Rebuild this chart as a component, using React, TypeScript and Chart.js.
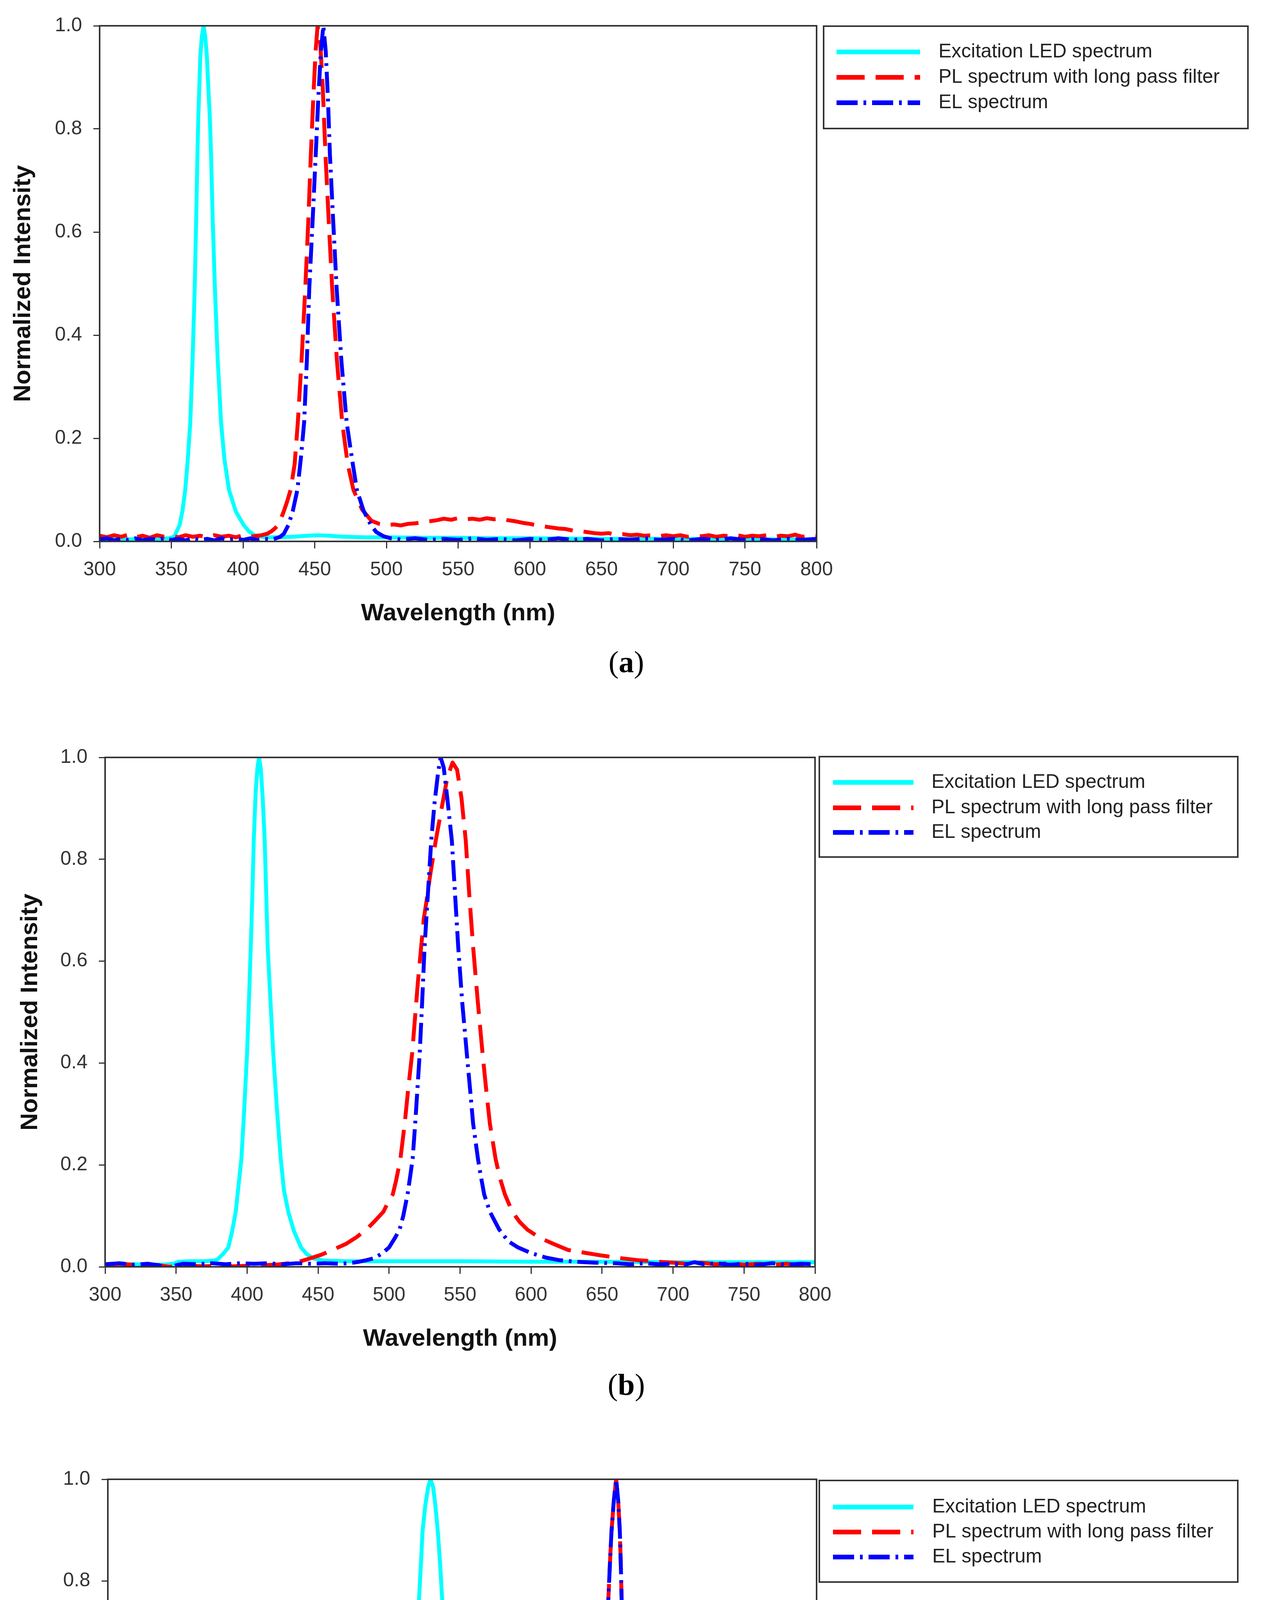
import { useEffect, useRef } from 'react';
import { Chart, registerables } from 'chart.js';

Chart.register(...registerables);

type Pt = [number, number];

// legend entries, shared by all three panels
const seriesLabels = ['Excitation LED spectrum', 'PL spectrum with long pass filter', 'EL spectrum'];
const seriesColors = ['#00FFFF', '#FF0000', '#0000FF'];
const seriesDash = [[], [72, 28], [54, 15, 7, 15]];

// (a) wavelength (nm) / normalized intensity
const ledA: Pt[] = [
  [300, 0.004], [310, 0.005], [320, 0.004], [330, 0.005], [340, 0.005], [348, 0.006], [352, 0.009],
  [355.8, 0.032], [357.8, 0.06], [359.7, 0.1], [361.5, 0.16], [363.2, 0.23], [364.8, 0.35], [366.3, 0.49],
  [367.3, 0.62], [368.2, 0.75], [368.8, 0.82], [369.5, 0.88], [370.2, 0.94], [371.3, 0.98], [372.5, 1.0],
  [373.6, 0.98], [374.8, 0.94], [375.8, 0.88], [376.9, 0.82], [377.7, 0.75], [378.9, 0.62], [380.4, 0.49],
  [382.4, 0.35], [384.7, 0.23], [387, 0.16], [390.2, 0.1], [395, 0.058], [400.4, 0.032], [404, 0.02],
  [408, 0.012], [415, 0.008], [425, 0.008], [435, 0.009], [445, 0.011], [452, 0.012], [460, 0.011],
  [470, 0.009], [485, 0.008], [500, 0.008], [525, 0.007], [550, 0.007], [575, 0.006], [600, 0.006],
  [650, 0.005], [700, 0.005], [750, 0.004], [800, 0.004],
];
const plA: Pt[] = [
  [300, 0.011], [305, 0.008], [310, 0.012], [315, 0.009], [320, 0.013], [325, 0.008], [330, 0.011],
  [335, 0.007], [340, 0.012], [345, 0.009], [350, 0.011], [355, 0.008], [360, 0.012], [365, 0.009],
  [370, 0.011], [375, 0.008], [380, 0.012], [385, 0.009], [390, 0.011], [395, 0.008], [400, 0.012],
  [405, 0.009], [410, 0.011], [413, 0.012], [417, 0.015], [420, 0.02], [422.5, 0.026], [424.6, 0.032],
  [428, 0.055], [430.5, 0.075], [433.2, 0.1], [436, 0.15], [438.2, 0.23], [440.8, 0.35], [443.4, 0.49],
  [445.5, 0.62], [447.3, 0.75], [449, 0.86], [450.6, 0.95], [452, 1.0], [453.8, 0.97], [455.6, 0.88],
  [457.5, 0.75], [459.8, 0.62], [462.2, 0.49], [465.5, 0.35], [469.2, 0.23], [473, 0.15], [477, 0.1],
  [483, 0.062], [489.5, 0.04], [495, 0.034], [500, 0.031], [505, 0.033], [510, 0.031], [515, 0.034],
  [520, 0.035], [525, 0.037], [530, 0.039], [535, 0.041], [540, 0.044], [545, 0.042], [550, 0.045],
  [555, 0.043], [560, 0.044], [565, 0.042], [570, 0.045], [575, 0.043], [580, 0.044], [585, 0.041],
  [590, 0.039], [595, 0.036], [600, 0.034], [605, 0.031], [610, 0.029], [615, 0.027], [620, 0.025],
  [625, 0.024], [630, 0.021], [635, 0.02], [640, 0.018], [645, 0.016], [650, 0.015], [655, 0.016],
  [660, 0.013], [665, 0.014], [670, 0.012], [675, 0.013], [680, 0.011], [685, 0.012], [690, 0.01],
  [695, 0.012], [700, 0.01], [705, 0.012], [710, 0.009], [715, 0.011], [720, 0.01], [725, 0.012],
  [730, 0.009], [735, 0.011], [740, 0.01], [745, 0.012], [750, 0.009], [755, 0.011], [760, 0.01],
  [765, 0.012], [770, 0.009], [775, 0.011], [780, 0.01], [785, 0.013], [790, 0.009], [795, 0.011],
  [800, 0.01],
];
const elA: Pt[] = [
  [300, 0.004], [305, 0.006], [310, 0.002], [315, 0.005], [320, 0.003], [325, 0.006], [330, 0.002],
  [335, 0.005], [340, 0.003], [345, 0.006], [350, 0.003], [355, 0.005], [360, 0.002], [365, 0.006],
  [370, 0.003], [375, 0.005], [380, 0.002], [385, 0.006], [390, 0.003], [395, 0.005], [400, 0.003],
  [405, 0.006], [410, 0.003], [415, 0.005], [420, 0.004], [423, 0.006], [426, 0.009], [428.5, 0.015],
  [431.7, 0.032], [434.8, 0.06], [437.9, 0.1], [440.3, 0.16], [442.6, 0.23], [444.5, 0.35], [446.2, 0.49],
  [448.5, 0.62], [450.7, 0.75], [452.5, 0.86], [454.3, 0.95], [456, 1.0], [457.7, 0.95], [459.2, 0.86],
  [460.6, 0.75], [462.9, 0.62], [465.3, 0.49], [468.6, 0.35], [472.3, 0.23], [476, 0.16], [479.4, 0.1],
  [484, 0.06], [489.5, 0.03], [493, 0.018], [498, 0.01], [503, 0.006], [510, 0.004], [520, 0.006],
  [530, 0.003], [540, 0.005], [550, 0.003], [560, 0.006], [570, 0.003], [580, 0.005], [590, 0.002],
  [600, 0.005], [610, 0.003], [620, 0.006], [630, 0.003], [640, 0.005], [650, 0.002], [660, 0.005],
  [670, 0.003], [680, 0.006], [690, 0.003], [700, 0.005], [710, 0.002], [720, 0.005], [730, 0.003],
  [740, 0.006], [750, 0.003], [760, 0.005], [770, 0.002], [780, 0.005], [790, 0.003], [800, 0.005],
];

// (b)
const ledB: Pt[] = [
  [300, 0.004], [320, 0.005], [340, 0.004], [348, 0.006], [352, 0.01], [360, 0.011], [370, 0.011],
  [376, 0.012], [379, 0.014], [383, 0.025], [386.8, 0.038], [389.5, 0.07], [392, 0.108], [394, 0.16],
  [396, 0.212], [398, 0.31], [400, 0.42], [401.3, 0.52], [402.6, 0.628], [403.7, 0.73], [404.7, 0.837],
  [406, 0.93], [407.3, 0.98], [408.4, 1.0], [409.6, 0.98], [411, 0.92], [412.4, 0.837], [413.5, 0.73],
  [414.5, 0.628], [416.5, 0.52], [418.4, 0.42], [421, 0.31], [423.7, 0.212], [426, 0.15], [429, 0.108],
  [433, 0.07], [438, 0.038], [442, 0.025], [447, 0.016], [455, 0.012], [470, 0.011], [500, 0.011],
  [550, 0.011], [600, 0.01], [650, 0.01], [700, 0.009], [750, 0.009], [800, 0.009],
];
const plB: Pt[] = [
  [300, 0.004], [310, 0.006], [320, 0.004], [330, 0.005], [338, 0.003], [345, 0.0], [350, 0.001],
  [355, 0.0], [360, 0.002], [370, 0.001], [380, 0.002], [390, 0.001], [400, 0.002], [410, 0.003],
  [420, 0.004], [430, 0.007], [436.8, 0.01], [445, 0.017], [452.6, 0.024], [460, 0.033], [469.7, 0.045],
  [477, 0.058], [484, 0.073], [490, 0.09], [496, 0.108], [499, 0.125], [502.6, 0.142], [505, 0.17],
  [508, 0.212], [511, 0.281], [513.5, 0.35], [516.3, 0.42], [518.3, 0.49], [520.3, 0.559], [522.5, 0.625],
  [524.5, 0.684], [526.5, 0.72], [529, 0.77], [532.9, 0.837], [537, 0.9], [541, 0.96], [544.7, 0.99],
  [547.9, 0.976], [551, 0.92], [554, 0.837], [556.5, 0.73], [559.2, 0.628], [562.5, 0.52], [565.8, 0.42],
  [568.5, 0.345], [571, 0.281], [575, 0.212], [578, 0.175], [581.6, 0.142], [586.8, 0.108], [592, 0.088],
  [597.4, 0.073], [606, 0.057], [615.8, 0.045], [626, 0.033], [636.8, 0.028], [650, 0.022], [663, 0.017],
  [675, 0.013], [689.5, 0.01], [700, 0.008], [710, 0.006], [720, 0.008], [730, 0.005], [740, 0.007],
  [750, 0.004], [760, 0.006], [770, 0.004], [780, 0.006], [790, 0.003], [800, 0.005],
];
const elB: Pt[] = [
  [300, 0.005], [310, 0.007], [320, 0.004], [330, 0.006], [338, 0.003], [344.7, -0.003], [350, 0.003],
  [355, 0.006], [365, 0.005], [375, 0.007], [385, 0.005], [395, 0.007], [405, 0.006], [415, 0.007],
  [425, 0.005], [435, 0.007], [445, 0.006], [455, 0.007], [465, 0.006], [472, 0.007], [479, 0.01],
  [484, 0.013], [489.5, 0.017], [495, 0.026], [500, 0.038], [504, 0.056], [507.4, 0.073], [510, 0.1],
  [513, 0.142], [515, 0.18], [516.6, 0.212], [518.4, 0.281], [520, 0.35], [521.6, 0.42], [523.3, 0.52],
  [525, 0.628], [527.3, 0.73], [529.7, 0.837], [532, 0.91], [534.5, 0.97], [536.3, 1.0], [538.5, 0.98],
  [541, 0.92], [544.2, 0.837], [546.5, 0.73], [548.7, 0.628], [551.5, 0.52], [554.7, 0.42], [557, 0.35],
  [559.2, 0.281], [562.6, 0.212], [564.5, 0.18], [567, 0.142], [571, 0.108], [577.6, 0.073], [584, 0.05],
  [590.8, 0.038], [600, 0.027], [610.5, 0.018], [620, 0.013], [631.6, 0.01], [645, 0.008], [660, 0.007],
  [670, 0.005], [680, 0.007], [690, 0.005], [700, 0.006], [708, 0.004], [715, 0.009], [722, 0.005],
  [730, 0.007], [740, 0.004], [750, 0.006], [760, 0.004], [770, 0.007], [780, 0.004], [790, 0.006],
  [800, 0.005],
];

// (c)
const ledC: Pt[] = [
  [300, 0.005], [350, 0.005], [400, 0.005], [450, 0.005], [470, 0.006], [475, 0.008], [481.4, 0.014],
  [486, 0.026], [489.5, 0.042], [494, 0.068], [497.7, 0.097], [501, 0.14], [504.8, 0.202], [507.5, 0.27],
  [510, 0.341], [513, 0.445], [515.5, 0.549], [517.5, 0.65], [519.4, 0.758], [521, 0.84], [522, 0.897],
  [524, 0.95], [526, 0.985], [527.6, 1.0], [529.5, 0.985], [531, 0.95], [532.8, 0.897], [534.5, 0.83],
  [536, 0.758], [538.5, 0.65], [541.5, 0.549], [545.5, 0.445], [549.7, 0.341], [553, 0.27], [556.8, 0.202],
  [562, 0.145], [569.2, 0.097], [576, 0.065], [583.8, 0.042], [589, 0.028], [595.2, 0.021], [603, 0.015],
  [611.4, 0.01], [620, 0.008], [630, 0.007], [650, 0.005], [680, 0.004], [700, 0.004], [750, 0.004],
  [800, 0.004],
];
const plC: Pt[] = [
  [300, 0.007], [310, 0.005], [320, 0.008], [330, 0.005], [340, 0.007], [350, 0.005], [360, 0.008],
  [370, 0.005], [380, 0.007], [390, 0.005], [400, 0.008], [410, 0.005], [420, 0.007], [430, 0.005],
  [440, 0.008], [450, 0.005], [460, 0.007], [470, 0.005], [480, 0.008], [490, 0.005], [500, 0.007],
  [510, 0.005], [520, 0.008], [530, 0.005], [540, 0.007], [550, 0.005], [560, 0.008], [570, 0.005],
  [580, 0.007], [590, 0.006], [595, 0.008], [600, 0.011], [605, 0.016], [610, 0.025], [614, 0.04],
  [618, 0.05], [622, 0.058], [625, 0.063], [628, 0.075], [631, 0.097], [635, 0.15], [639, 0.202],
  [642, 0.27], [644.6, 0.341], [647, 0.445], [649.5, 0.549], [651.3, 0.65], [653, 0.758], [654.3, 0.84],
  [655.3, 0.897], [657, 0.96], [658.6, 1.0], [660, 0.96], [661.2, 0.897], [662, 0.82], [662.5, 0.758],
  [663.2, 0.65], [663.8, 0.549], [664.8, 0.445], [665.7, 0.341], [666.8, 0.27], [668.3, 0.202],
  [670.5, 0.14], [673.2, 0.097], [676, 0.065], [679.7, 0.042], [683, 0.03], [686, 0.021], [692, 0.013],
  [699.2, 0.01], [710, 0.008], [720, 0.006], [730, 0.008], [740, 0.005], [750, 0.007], [760, 0.005],
  [770, 0.008], [780, 0.005], [790, 0.007], [800, 0.006],
];
const elC: Pt[] = [
  [300, 0.003], [310, 0.005], [320, 0.002], [330, 0.004], [340, 0.002], [350, 0.005], [360, 0.003],
  [370, 0.005], [380, 0.002], [390, 0.004], [400, 0.003], [410, 0.005], [420, 0.002], [430, 0.004],
  [440, 0.003], [450, 0.005], [460, 0.002], [470, 0.004], [480, 0.003], [490, 0.005], [500, 0.002],
  [510, 0.004], [520, 0.003], [530, 0.005], [540, 0.002], [550, 0.004], [560, 0.003], [570, 0.005],
  [580, 0.002], [590, 0.004], [600, 0.006], [605, 0.01], [609, 0.014], [613, 0.02], [618, 0.028],
  [622, 0.04], [627.7, 0.063], [631, 0.097], [635, 0.15], [639, 0.202], [642, 0.27], [644.6, 0.341],
  [647, 0.445], [649.5, 0.549], [651.3, 0.65], [653, 0.758], [654.3, 0.84], [655.3, 0.897], [657, 0.96],
  [658.6, 1.0], [660, 0.96], [661.2, 0.897], [662, 0.82], [662.5, 0.758], [663.2, 0.65], [663.8, 0.549],
  [664.8, 0.445], [665.7, 0.341], [666.8, 0.27], [668.3, 0.202], [670.5, 0.14], [673.2, 0.097],
  [676, 0.065], [679.7, 0.042], [683, 0.028], [686, 0.019], [692, 0.011], [699.2, 0.007], [710, 0.004],
  [720, 0.005], [730, 0.002], [740, 0.004], [750, 0.003], [760, 0.005], [770, 0.002], [780, 0.004],
  [790, 0.003], [800, 0.004],
];

const FONT = '"Liberation Sans", Arial, sans-serif';
const AXIS = '#333';

// page layout of each panel (px in the 3230-wide page)
const panels = [
  {
    name: 'a', series: [ledA, plA, elA],
    plot: { l: 255, r: 2090, t: 66, b: 1386 }, yTitleX: 60,
    legend: { l: 2108, t: 67, r: 3194, b: 329, rows: [133, 198, 263], s1: 2141, s2: 2355, tx: 2402 },
    capY: 1695,
  },
  {
    name: 'b', series: [ledB, plB, elB],
    plot: { l: 269, r: 2086, t: 1939, b: 3243 }, yTitleX: 78,
    legend: { l: 2097, t: 1937, r: 3168, b: 2194, rows: [2003, 2068, 2131], s1: 2132, s2: 2338, tx: 2384 },
    capY: 3545,
  },
  {
    name: 'c', series: [ledC, plC, elC],
    plot: { l: 276, r: 2090, t: 3787, b: 5090 }, yTitleX: 84,
    legend: { l: 2097, t: 3790, r: 3168, b: 4050, rows: [3858, 3922, 3986], s1: 2132, s2: 2338, tx: 2386 },
    capY: 5398,
  },
];

const TOP_PAD = 70;
const X_AXIS_H = 250;

const framePlugin = {
  id: 'frameLegend',
  afterDraw(chart: any, _args: any, opts: any) {
    const { ctx, chartArea: a } = chart;
    const L = opts.box;
    if (!L) return;
    ctx.save();
    ctx.strokeStyle = AXIS;
    ctx.lineWidth = 4;
    ctx.strokeRect(a.left, a.top, a.right - a.left, a.bottom - a.top);
    ctx.strokeRect(L.l, L.t, L.r - L.l, L.b - L.t);
    chart.data.datasets.forEach((ds: any, i: number) => {
      const y = L.rows[i];
      ctx.strokeStyle = ds.borderColor;
      ctx.lineWidth = 12;
      ctx.setLineDash(ds.borderDash || []);
      ctx.beginPath();
      ctx.moveTo(L.s1, y);
      ctx.lineTo(L.s2, y);
      ctx.stroke();
      ctx.setLineDash([]);
      ctx.fillStyle = '#222';
      ctx.font = `50px ${FONT}`;
      ctx.textBaseline = 'middle';
      ctx.textAlign = 'left';
      ctx.fillText(ds.label, L.tx, y);
    });
    ctx.restore();
  },
};

function Panel({ spec }: { spec: (typeof panels)[number] }) {
  const canvasRef = useRef<HTMLCanvasElement>(null);
  const top = spec.plot.t - TOP_PAD;
  const height = spec.plot.b - spec.plot.t + TOP_PAD + X_AXIS_H;

  useEffect(() => {
    if (!canvasRef.current) return;
    const lg = spec.legend;
    const box = {
      l: lg.l, r: lg.r, t: lg.t - top, b: lg.b - top,
      rows: lg.rows.map((y) => y - top), s1: lg.s1, s2: lg.s2, tx: lg.tx,
    };

    const chart = new Chart(canvasRef.current, {
      type: 'line',
      data: {
        datasets: spec.series.map((pts, i) => ({
          label: seriesLabels[i],
          data: pts.map(([x, y]) => ({ x, y })),
          borderColor: seriesColors[i],
          borderDash: seriesDash[i],
          borderWidth: 10,
          borderJoinStyle: 'round' as const,
          pointRadius: 0,
          tension: 0,
          fill: false,
          order: 3 - i,
        })),
      },
      options: {
        animation: false,
        responsive: false,
        devicePixelRatio: 1,
        layout: { padding: { top: TOP_PAD, left: 0, right: 3230 - spec.plot.r, bottom: 0 } },
        plugins: {
          legend: { display: false },
          tooltip: { enabled: false },
          frameLegend: { box },
        } as any,
        scales: {
          x: {
            type: 'linear',
            min: 300,
            max: 800,
            afterFit: (s: any) => { s.height = X_AXIS_H; },
            ticks: { stepSize: 50, autoSkip: false, maxRotation: 0, padding: 25, color: AXIS, font: { family: FONT, size: 50 } },
            grid: { drawOnChartArea: false, drawTicks: true, tickLength: 18, color: AXIS, lineWidth: 3 },
            border: { display: false },
            title: {
              display: true,
              text: 'Wavelength (nm)',
              color: '#111',
              font: { family: FONT, size: 62, weight: 'bold' },
              padding: { top: 0, bottom: 28 },
            },
          },
          y: {
            min: 0,
            max: 1,
            afterFit: (s: any) => { s.width = spec.plot.l; },
            ticks: { stepSize: 0.2, padding: 29, color: AXIS, font: { family: FONT, size: 50 }, callback: (v: any) => Number(v).toFixed(1) },
            grid: { drawOnChartArea: false, drawTicks: true, tickLength: 16, color: AXIS, lineWidth: 3 },
            border: { display: false },
            title: {
              display: true,
              text: 'Normalized Intensity',
              color: '#111',
              font: { family: FONT, size: 62, weight: 'bold' },
              padding: { top: spec.yTitleX - 37, bottom: 0 },
            },
          },
        },
      },
      plugins: [framePlugin],
    });

    return () => chart.destroy();
  }, [spec, top]);

  return (
    <>
      <canvas
        ref={canvasRef}
        width={3230}
        height={height}
        style={{ position: 'absolute', left: 0, top, width: 3230, height }}
      />
      <div
        style={{
          position: 'absolute', left: 1603, top: spec.capY, transform: 'translate(-50%, -50%)',
          fontFamily: '"Liberation Serif", "Times New Roman", serif', fontSize: 78, lineHeight: 1,
          whiteSpace: 'nowrap', color: '#000',
        }}
      >
        (<b>{spec.name}</b>)
      </div>
    </>
  );
}

export default function App() {
  return (
    <div style={{ position: 'absolute', left: 0, top: 0, width: 3230, height: 5471, background: '#fff', overflow: 'hidden' }}>
      {panels.map((p) => (
        <Panel key={p.name} spec={p} />
      ))}
    </div>
  );
}
